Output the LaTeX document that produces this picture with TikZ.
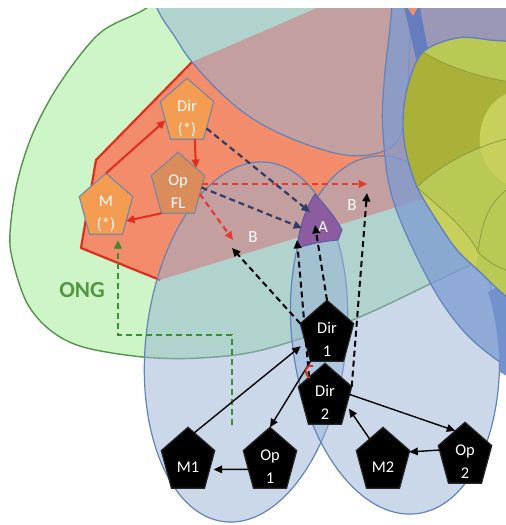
\documentclass[tikz,border=0pt]{standalone}
\usepackage{fontspec}
\usepackage{graphicx}
\newfontfamily\carl{Carlito}
\usetikzlibrary{arrows.meta,shapes.geometric,calc}

\definecolor{ongfill}{RGB}{206,245,200}
\definecolor{ongline}{RGB}{80,150,70}
\definecolor{redfill}{RGB}{242,140,106}
\definecolor{redline}{RGB}{225,45,30}
\definecolor{bluefill}{RGB}{150,178,212}
\definecolor{blueline}{RGB}{100,130,185}
\definecolor{ringfill}{RGB}{125,155,210}
\definecolor{ringdark}{RGB}{100,125,190}
\definecolor{ringmid}{RGB}{115,145,205}
\definecolor{limefill}{RGB}{186,200,84}
\definecolor{limelight}{RGB}{198,208,90}
\definecolor{limeline}{RGB}{140,155,70}
\definecolor{olivefill}{RGB}{170,176,56}
\definecolor{pentorange}{RGB}{243,156,82}
\definecolor{pentbrown}{RGB}{218,140,90}
\definecolor{pentedge}{RGB}{125,135,160}
\definecolor{purpleA}{RGB}{139,92,160}
\definecolor{purpleline}{RGB}{95,90,160}
\definecolor{cRedDash}{RGB}{228,60,50}
\definecolor{cNavyDash}{RGB}{50,60,100}
\definecolor{cGreenDash}{RGB}{60,140,55}
\definecolor{ongtext}{RGB}{85,150,65}

% pentagon label: a zero-size box, squeezed vertically so that the
% stretched node restores it, and set a little below the centre
\newcommand\pentext[1]{\makebox[0pt]{\smash{\raisebox{-4.5pt}{\scalebox{1}[0.8333]{%
  \fontsize{8.2}{11.5}\selectfont\begin{tabular}[c]{@{}c@{}}#1\end{tabular}}}}}}

\tikzset{
  pent/.style={regular polygon, regular polygon sides=5, minimum size=28.1pt,
    inner sep=0pt, outer sep=0pt, yscale=1.2, font=\carl, text=white, line width=0.6pt},
  orangepent/.style={pent, fill=pentorange, draw=pentedge},
  blackpent/.style={pent, fill=black, draw=black!85},
  veil/.style={fill=bluefill, fill opacity=0.5, draw=blueline, line width=0.6pt},
  tiptri/.style={-{Triangle[length=4.2pt,width=3.8pt]}},
  redarrow/.style={draw=redline, line width=1pt, tiptri},
  blackarrow/.style={draw=black, line width=0.7pt, tiptri},
  reddash/.style={draw=cRedDash, line width=1.1pt, dash pattern=on 3pt off 2pt, tiptri},
  navydash/.style={draw=cNavyDash, line width=1.1pt, dash pattern=on 3pt off 2pt, tiptri},
  blackdash/.style={draw=black, line width=1pt, dash pattern=on 3pt off 2pt, tiptri},
  greendash/.style={draw=cGreenDash, line width=1.1pt, dash pattern=on 3pt off 2pt, tiptri},
  regionlabel/.style={font=\carl\fontsize{8.5}{9}\selectfont, text=white},
}

\begin{document}
\begin{tikzpicture}[x=0.5pt,y=-0.5pt]
\useasboundingbox (0,0) rectangle (506,525);
\clip (0,0) rectangle (506,525);

% ONG field
\filldraw[fill=ongfill, draw=ongline, line width=0.7pt]
  plot[smooth,tension=0.55] coordinates {(185,-30) (148,7) (100,33) (60,83) (33,133)
  (17,183) (10,233) (13,262) (27,303) (50,330) (83,347) (143,357) (200,358)
  (262,350) (350,321) (430,284) (520,240) (620,180)} -- (700,-60) -- cycle;

% red sector
\fill[redfill] (400,-28) -- (192,62) -- (96,160) -- (81,248) -- (160,280)
  -- (400,206) -- (650,130) -- (650,-30) -- cycle;
\draw[redline, line width=1.1pt, line join=round] (192,62) -- (96,160) -- (81,248) -- (160,280);

% translucent blue sets
\filldraw[veil] plot[smooth,tension=0.6] coordinates {(148,-30) (157,8) (175,37)
  (192,62) (225,97) (258,122) (300,142) (345,155) (378,153) (398,140) (406,110)
  (409,60) (412,-30)} -- cycle;
\filldraw[veil, rotate around={-7:(246,342)}] (246,342) ellipse [x radius=100, y radius=181];
\filldraw[veil, rotate around={7:(395,335)}] (395,335) ellipse [x radius=103, y radius=180];

% right-hand ring
\filldraw[fill=ringfill, fill opacity=0.75, draw=blueline, line width=0.6pt]
  plot[smooth,tension=0.6] coordinates {(395,-30) (390,27) (384,83) (383,133) (393,200)
  (427,277) (460,327) (497,360) (540,385)} -- (700,385) -- (700,-30) -- cycle;
\fill[ringdark] (404,7) -- (420,7) .. controls (423,25) and (426,40) .. (428,50)
  -- (416,60) .. controls (412,40) and (407,20) .. (404,7) -- cycle;
\fill[redfill] (407,7) -- (418,7) -- (413,16) -- cycle;
\fill[ringmid] (488,292) .. controls (497,320) and (499,350) .. (500,372)
  -- (510,378) -- (510,280) -- cycle;

% lime set
\begin{scope}
  \clip plot[smooth cycle,tension=0.55] coordinates {(408,85) (423,52) (457,38)
    (490,40) (530,48) (620,100) (620,330) (540,315) (507,297) (480,272) (457,250)
    (437,221) (417,187) (406,152) (403,120)};
  \fill[limefill] (380,0) rectangle (520,340);
  \fill[olivefill] (400,40) -- (423,52) .. controls (445,66) and (480,78) .. (512,82)
    -- (512,138) .. controls (488,142) and (445,160) .. (417,187) -- (380,200) -- (380,40) -- cycle;
  \fill[limelight] (512,92) .. controls (490,98) and (478,120) .. (480,145)
    .. controls (482,165) and (495,180) .. (512,186) -- cycle;
  \fill[limelight] (380,190) -- (417,187) .. controls (430,200) and (465,225) .. (478,252)
    -- (470,300) -- (380,300) -- cycle;
  \draw[limeline, line width=0.4pt] (423,52) .. controls (445,66) and (480,78) .. (512,82);
  \draw[limeline, line width=0.4pt] (512,138) .. controls (488,142) and (445,160) .. (417,187);
  \draw[limeline, line width=0.4pt] (417,187) .. controls (430,200) and (465,225) .. (478,252);
  \draw[limeline, line width=0.4pt] (478,252) .. controls (488,262) and (498,268) .. (512,272);
  \draw[limeline, line width=0.4pt] (478,252) .. controls (482,220) and (490,200) .. (512,186);
\end{scope}
\draw[draw=blueline, line width=0.7pt] plot[smooth cycle,tension=0.55] coordinates {(408,85)
  (423,52) (457,38) (490,40) (530,48) (620,100) (620,330) (540,315) (507,297) (480,272)
  (457,250) (437,221) (417,187) (406,152) (403,120)};

% region A
\filldraw[fill=purpleA, draw=purpleline, line width=0.5pt]
  (315,194) .. controls (325,205) and (336,218) .. (342,230) -- (338,240)
  .. controls (325,241) and (310,244) .. (297,248)
  .. controls (298,235) and (304,210) .. (315,194) -- cycle;

% blank strip along the top
\fill[white] (-5,-5) rectangle (511,7.5);

% labels of the regions
\node[font=\carl\bfseries\fontsize{11.5}{12}\selectfont, text=ongtext] (ong) at (82,290) {ONG};
\node[regionlabel] (la) at (323,227) {A};
\node[regionlabel] (lb1) at (253,237) {B};
\node[regionlabel] (lb2) at (352,205) {B};

% actors
\node[orangepent] (dirs) at (187,112) {\pentext{Dir\\(*)}};
\node[orangepent, fill=pentbrown] (opfl) at (178,186) {\pentext{Op\\FL}};
\node[orangepent] (ms) at (106,207) {\pentext{M\\(*)}};
\node[blackpent] (dir1) at (327,334) {\pentext{Dir\\1}};
\node[blackpent] (dir2) at (325,397) {\pentext{Dir\\2}};
\node[blackpent] (op1) at (270,461) {\pentext{Op\\1}};
\node[blackpent] (m1) at (188,461) {\pentext{M1}};
\node[blackpent] (m2) at (383,461) {\pentext{M2}};
\node[blackpent] (op2) at (465,456) {\pentext{Op\\2}};

% free ends of the dashed flows
\coordinate (bR) at (367,184);
\coordinate (bL) at (233,240);
\coordinate (aL) at (302,228);
\coordinate (aT) at (310,212);
\coordinate (bL2) at (232,248);
\coordinate (aD) at (297,240);
\coordinate (aU) at (315,225);
\coordinate (bRb) at (367,193);
\coordinate (gs) at (232,425);
\coordinate (gk) at (118,335);

% flows inside the red sector
\draw[redarrow] (ms.corner 1) -- (dirs.side 2);
\draw[redarrow] (dirs.-71) -- (opfl.40);
\draw[redarrow] (opfl.corner 3) -- (ms.-30);

% dashed flows
\draw[reddash] (opfl.east |- bR) -- (bR);
\draw[reddash] (opfl.-17) -- (bL);
\draw[navydash] (opfl.-3) -- (aL);
\draw[navydash] (dirs.-35) -- (aT);
\draw[blackdash] (dir1.corner 2) -- (bL2);
\draw[blackdash] (dir2.134) -- (aD);
\draw[blackdash] (dir1.corner 1) -- (aU);
\draw[blackdash] (dir2.corner 5) -- (bRb);
\draw[greendash, shorten >=3pt] (gs) |- (gk) -- (gk |- ms.south);

% solid flows between the lower actors
\draw[blackarrow, shorten >=3pt] (m1.75) -- (dir1.side 2);
\draw[blackarrow] (dir1.corner 3) -- (op1.corner 1);
\draw[blackarrow, shorten >=2pt] (op1.side 2) -- (m1.side 4);
\draw[blackarrow] (dir2.5) -- (op2.115);
\draw[blackarrow] (op2.169) -- (m2.16);
\draw[blackarrow, shorten >=2pt] (m2.side 1) -- (dir2.side 4);

% small hook between Dir 1 and Dir 2
\draw[redline, line width=0.9pt] (313,366) .. controls (305,364) and (303,374) .. (310,378);
\end{tikzpicture}
\end{document}
